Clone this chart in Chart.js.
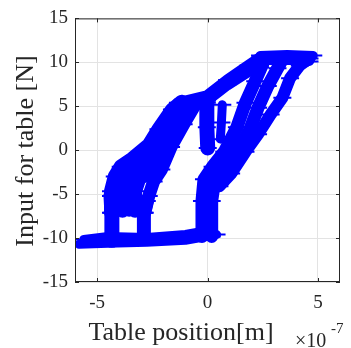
<!DOCTYPE html>
<html>
<head>
<meta charset="utf-8">
<script src="https://cdn.jsdelivr.net/npm/chart.js@4/dist/chart.umd.min.js"></script>
<style>
  html, body { margin: 0; padding: 0; background: #fff; }
  canvas { display: block; }
</style>
</head>
<body>
<canvas id="chart" width="351" height="348"></canvas>
<script>
// x values are in units of 1e-7 m, y values in N
const xTicks = [-5, 0, 5];
const yTicks = [-15, -10, -5, 0, 5, 10, 15];

// bottom horizontal band
const bottomLow = [[-5.82, -10.71], [-4.5, -10.6], [-2.75, -10.48], [-1.0, -10.26], [0.01, -9.81], [0.41, -9.59]];
const bottomHigh = [[-5.6, -10.15], [-4.5, -9.81], [-2.75, -9.93], [-1.0, -9.59], [0.01, -9.14]];

// two legs at lower left
const legLeft = [[-4.33, -10.26], [-4.33, -7.12], [-4.37, -5.22]];
const legRight = [[-2.88, -10.04], [-2.88, -7.12], [-2.75, -5.78]];

// left rising branch
const left1 = [[-4.37, -7.12], [-4.37, -4.67], [-4.2, -2.99], [-3.93, -1.87], [-3.41, -0.97], [-2.66, 0.59], [-2.22, 2.38], [-1.61, 4.62], [-1.17, 5.51]];
const left2 = [[-3.85, -6.9], [-3.85, -4.67], [-3.71, -2.99], [-3.41, -2.1], [-2.97, -1.09], [-2.31, 0.59], [-1.79, 2.61], [-1.21, 4.62], [-0.86, 5.29]];
const left3 = [[-3.28, -6.9], [-3.28, -4.67], [-3.1, -3.32], [-2.75, -2.43], [-2.4, -1.31], [-1.96, 0.59], [-1.43, 2.61], [-0.91, 4.51], [-0.56, 5.18]];
const left4 = [[-2.84, -7.12], [-2.66, -5.22], [-2.44, -3.55], [-2.09, -2.21], [-1.65, 0.37], [-1.08, 2.94], [-0.64, 4.84]];
const left5 = [[-3.55, -6.9], [-3.55, -4.2], [-3.4, -2.9]];

// upper diagonal band and top band
const upper1 = [[-1.34, 5.4], [-0.03, 6.19], [0.89, 7.98], [1.86, 9.65], [2.38, 10.55]];
const upper2 = [[-0.78, 4.96], [-0.03, 5.63], [0.89, 7.42], [1.86, 8.98], [2.38, 9.43]];
const top1 = [[2.38, 10.77], [3.61, 10.89], [4.79, 10.77]];
const top2 = [[2.51, 10.21], [3.83, 10.21], [4.62, 10.1]];

// right rising branch
const right1 = [[-0.25, -9.81], [-0.25, -5.78], [-0.16, -3.32], [0.23, -1.87], [0.76, -0.19], [1.33, 2.61], [1.72, 5.4], [2.16, 7.86], [2.51, 9.88]];
const right2 = [[0.19, -9.81], [0.19, -5.78], [0.32, -3.55], [0.76, -2.21], [1.33, -0.19], [1.9, 2.27], [2.29, 4.84], [2.73, 7.3], [3.17, 9.32], [3.39, 10.32]];
const right3 = [[0.54, -4.1], [1.07, -2.66], [1.72, -0.19], [2.29, 1.82], [2.86, 4.06], [3.39, 5.96], [3.74, 8.2], [4.18, 9.65], [4.62, 10.44]];

// inner stubs hanging from the upper band
const stub1 = [[-0.03, 5.4], [-0.03, 2.61], [0.01, 0.26]];
const stub2 = [[0.67, 5.18], [0.63, 3.16], [0.58, 1.26]];

const BLUE = '#0000ff';
const AXIS = '#262626';
const SERIF = "'Liberation Serif', 'Times New Roman', serif";

function strand(points, width) {
    return {
        data: points.map(p => ({ x: p[0], y: p[1] })),
        showLine: true,
        borderColor: BLUE,
        backgroundColor: BLUE,
        borderWidth: width,
        borderJoinStyle: 'round',
        borderCapStyle: 'round',
        pointStyle: 'line',
        pointRadius: 9,
        pointBorderWidth: 2,
        pointBorderColor: BLUE,
    };
}

const frame = {
    id: 'frame',
    afterDraw(chart) {
        const { ctx, chartArea: a, scales: { x, y } } = chart;
        ctx.save();
        ctx.strokeStyle = AXIS;
        ctx.lineWidth = 1;
        ctx.strokeRect(a.left + 0.5, a.top + 0.5, a.width - 1, a.height - 1);
        ctx.beginPath();
        xTicks.forEach(v => {
            const px = Math.round(x.getPixelForValue(v)) + 0.5;
            ctx.moveTo(px, a.bottom); ctx.lineTo(px, a.bottom - 4);
            ctx.moveTo(px, a.top); ctx.lineTo(px, a.top + 4);
        });
        yTicks.forEach(v => {
            const py = Math.round(y.getPixelForValue(v)) + 0.5;
            ctx.moveTo(a.left, py); ctx.lineTo(a.left + 4, py);
            ctx.moveTo(a.right, py); ctx.lineTo(a.right - 4, py);
        });
        ctx.stroke();

        ctx.fillStyle = AXIS;
        ctx.textBaseline = 'alphabetic';
        ctx.font = '26px ' + SERIF;
        ctx.textAlign = 'center';
        ctx.fillText('Table position[m]', 181, 340);

        ctx.textAlign = 'left';
        ctx.font = '20px ' + SERIF;
        ctx.fillText('\u00d710', 295, 347);
        ctx.font = '15px ' + SERIF;
        ctx.fillText('-7', 331, 333);

        ctx.translate(33, 151);
        ctx.rotate(-Math.PI / 2);
        ctx.textAlign = 'center';
        ctx.font = '26px ' + SERIF;
        ctx.fillText('Input for table [N]', 0, 0);
        ctx.restore();
    }
};

new Chart(document.getElementById('chart'), {
    type: 'scatter',
    data: {
        datasets: [
            strand(bottomLow, 9), strand(bottomHigh, 9),
            strand(legLeft, 15), strand(legRight, 14),
            strand(left1, 14), strand(left2, 14), strand(left3, 14), strand(left4, 13), strand(left5, 12),
            strand(upper1, 11), strand(upper2, 11),
            strand(top1, 9), strand(top2, 9),
            strand(right1, 13), strand(right2, 13), strand(right3, 12),
            strand(stub1, 15), strand(stub2, 9),
        ]
    },
    options: {
        responsive: false,
        devicePixelRatio: 1,
        animation: false,
        layout: { padding: { top: 14, right: 3, left: 0, bottom: 0 } },
        plugins: { legend: { display: false }, tooltip: { enabled: false } },
        scales: {
            x: {
                type: 'linear',
                min: -6,
                max: 6,
                afterBuildTicks: s => { s.ticks = xTicks.map(v => ({ value: v })); },
                afterFit: s => { s.height = 66; },
                grid: { color: '#e3e3e3', drawTicks: false },
                border: { display: false },
                ticks: { padding: 10, color: AXIS, font: { family: SERIF, size: 19 } },
            },
            y: {
                type: 'linear',
                min: -15,
                max: 15,
                afterBuildTicks: s => { s.ticks = yTicks.map(v => ({ value: v })); },
                afterFit: s => { s.width = 75; },
                grid: { color: '#e3e3e3', drawTicks: false },
                border: { display: false },
                ticks: { padding: 7, color: AXIS, font: { family: SERIF, size: 19 } },
            }
        }
    },
    plugins: [frame]
});
</script>
</body>
</html>
